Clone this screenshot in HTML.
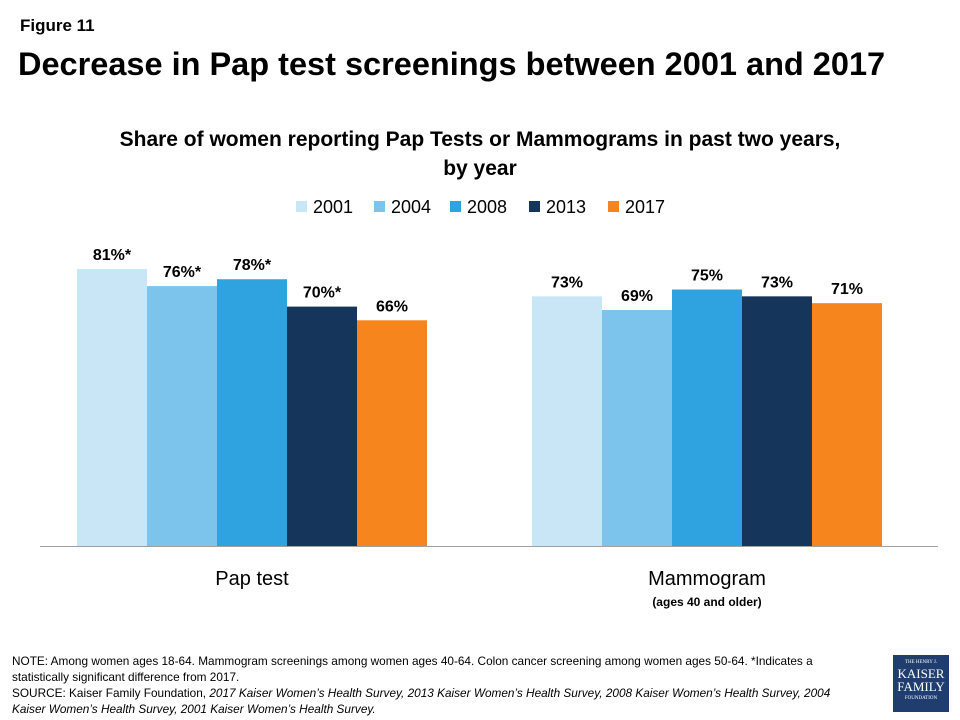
<!DOCTYPE html>
<html><head><meta charset="utf-8"><style>
body{margin:0;background:#fff;font-family:"Liberation Sans",sans-serif;}
#wrap{position:relative;width:960px;height:720px;overflow:hidden;}
.t{position:absolute;white-space:nowrap;color:#000;}
</style></head><body>
<div id="wrap">
<div class="t" style="left:20px;top:16px;font-size:17px;font-weight:bold">Figure 11</div>
<div class="t" style="left:18px;top:46px;font-size:32.5px;font-weight:bold">Decrease in Pap test screenings between 2001 and 2017</div>
<div class="t" style="left:0;width:960px;text-align:center;top:125px;font-size:21px;font-weight:bold;line-height:29px">Share of women reporting Pap Tests or Mammograms in past two years,<br>by year</div>
<svg id="chart" width="960" height="720" style="position:absolute;left:0;top:0"></svg>
<div class="t" style="left:12px;top:653px;font-size:11.8px;line-height:16px">NOTE: Among women ages 18-64. Mammogram screenings among women ages 40-64. Colon cancer screening among women ages 50-64. *Indicates a<br>statistically significant difference from 2017.<br>SOURCE: Kaiser Family Foundation, <i>2017 Kaiser Women’s Health Survey, 2013 Kaiser Women’s Health Survey, 2008 Kaiser Women’s Health Survey, 2004<br>Kaiser Women’s Health Survey, 2001 Kaiser Women’s Health Survey.</i></div>
<div style="position:absolute;left:893px;top:655px;width:56px;height:57px;background:#1f3d6e;color:#fff;text-align:center;font-family:'Liberation Serif',serif;">
<div style="font-size:5px;margin-top:5px">THE HENRY J.</div>
<div style="font-size:13px;line-height:13px;margin-top:2px">KAISER</div>
<div style="font-size:13px;line-height:13px">FAMILY</div>
<div style="font-size:5px;margin-top:3px">FOUNDATION</div>
</div>
</div>
<script>
const categories=["Pap test","Mammogram"];
const years=["2001","2004","2008","2013","2017"];
const colors=["#c9e6f7","#7dc4ec","#2fa3e0","#15355a","#f7851d"];
const v2001=[81,73];
const v2004=[76,69];
const v2008=[78,75];
const v2013=[70,73];
const v2017=[66,71];
const labels2001=["81%*","73%"];
const labels2004=["76%*","69%"];
const labels2008=["78%*","75%"];
const labels2013=["70%*","73%"];
const labels2017=["66%","71%"];
const series=[v2001,v2004,v2008,v2013,v2017];
const seriesLabels=[labels2001,labels2004,labels2008,labels2013,labels2017];
const svg=document.getElementById('chart');
const NS='http://www.w3.org/2000/svg';
const baseY=546,pxPer=3.42,x0=40,x1=938,barW=70,groupStart=77,groupStep=455;
function yScale(v){return baseY-v*pxPer;}
function xBar(ci,si){return groupStart+groupStep*ci+si*barW;}
function groupCenter(ci){return groupStart+groupStep*ci+barW*years.length/2;}
function mk(tag,attrs){const e=document.createElementNS(NS,tag);for(const k in attrs)e.setAttribute(k,attrs[k]);svg.appendChild(e);return e;}
series.forEach((s,si)=>{s.forEach((v,ci)=>{
 const r=mk('rect',{x:xBar(ci,si),y:yScale(v),width:barW,height:baseY-yScale(v),fill:colors[si]});
 
 
 const t=mk('text',{x:xBar(ci,si)+barW/2,y:yScale(v)-9,'text-anchor':'middle','font-size':16,'font-weight':'bold','font-family':'Liberation Sans, sans-serif'});
 t.textContent=seriesLabels[si][ci];
 
 
});});
const ax=mk('line',{x1:x0,x2:x1,y1:baseY+0.5,y2:baseY+0.5,stroke:'#a0a0a0','stroke-width':1});


categories.forEach((c,ci)=>{
 const t=mk('text',{x:groupCenter(ci),y:585,'text-anchor':'middle','font-size':20,'font-family':'Liberation Sans, sans-serif'});
 t.textContent=c;
 
 
});
const sub=mk('text',{x:groupCenter(1),y:606,'text-anchor':'middle','font-size':12,'font-weight':'bold','font-family':'Liberation Sans, sans-serif'});
sub.textContent='(ages 40 and older)';


const legX=[296,374,450,529,608];
years.forEach((y,i)=>{
 const r=mk('rect',{x:legX[i],y:201,width:11,height:11,fill:colors[i]});
 
 
 const t=mk('text',{x:legX[i]+17,y:213,'font-size':18,'font-family':'Liberation Sans, sans-serif'});
 t.textContent=y;
 
 
});
</script>
</body></html>
